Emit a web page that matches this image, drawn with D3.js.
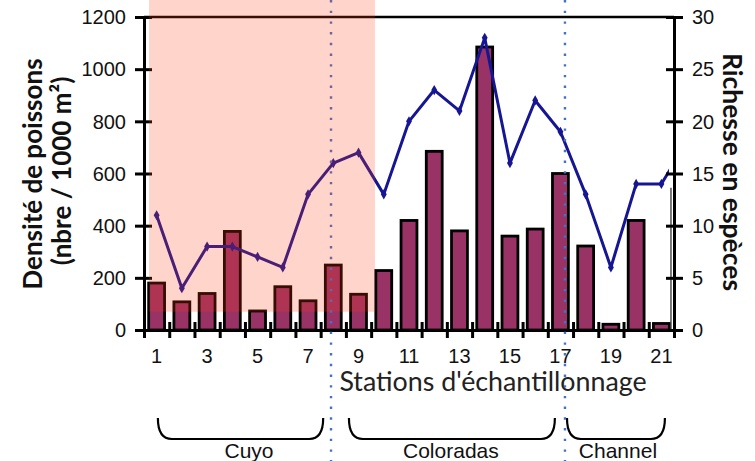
<!DOCTYPE html>
<html><head><meta charset="utf-8">
<script src="https://cdn.jsdelivr.net/npm/d3@7"></script>
<style>body{margin:0;background:#fff}svg{display:block}</style>
</head><body>
<script>
// ---- data ----
const stations = d3.range(1, 22);
const density = [180,108,140,378,73,166,112,249,137,228,420,685,380,1085,360,387,600,322,22,420,25];
const richness = [11,4,8,8,7,6,13,16,17,13,20,23,21,28,16,22,19,13,6,14,14];
const richnessBeyond = {station: 22, value: 18}; // continuation clipped at the right axis
const leftTicks = [0,200,400,600,800,1000,1200];
const rightTicks = [0,5,10,15,20,25,30];
const xTickLabels = [1,3,5,7,9,11,13,15,17,19,21];
const groups = [
  {name: "Cuyo", from: 1.05, to: 7.6, label: 4.66},
  {name: "Coloradas", from: 8.62, to: 16.78, label: 12.66},
  {name: "Channel", from: 17.26, to: 21.14, label: 19.28}
];
const dividers = [7.91, 17.18];
const shaded = {from: 0.7, to: 9.65};
const leftTitle = ["Densité de poissons", "(nbre / 1000 m²)"];
const rightTitle = "Richesse en espèces";
const xTitle = "Stations d'échantillonnage";

// ---- layout ----
const W = 755, H = 461;
const L = 144, R = 674, T = 17, B = 330;
const svg = d3.select("body").append("svg").attr("width", W).attr("height", H);

const xBand = d3.scaleBand(stations, [L, R]).paddingInner(0.37).paddingOuter(0.185);
const xLin = d3.scaleLinear([0.5, 21.5], [L, R]);
const yL = d3.scaleLinear([0, 1200], [B, T]);
const yR = d3.scaleLinear([0, 30], [B, T]);

// bars
svg.append("g").selectAll("rect").data(stations).join("rect")
  .attr("x", d => xBand(d)).attr("width", xBand.bandwidth())
  .attr("y", (d, i) => yL(density[i])).attr("height", (d, i) => B - yL(density[i]))
  .attr("fill", "#993366").attr("stroke", "#000").attr("stroke-width", 2.8);

// artifact line near right axis
svg.append("line").attr("x1", xLin(21.38)).attr("x2", xLin(21.38))
  .attr("y1", yL(545)).attr("y2", B).attr("stroke", "#333").attr("stroke-width", 1.3);

// richness line
svg.append("clipPath").attr("id", "clip").append("rect")
  .attr("x", 0).attr("y", 0).attr("width", xLin(21.3)).attr("height", H);
const pts = stations.map((s, i) => [xBand(s) + xBand.bandwidth() / 2, yR(richness[i])]);
const allPts = pts.concat([[xLin(richnessBeyond.station), yR(richnessBeyond.value)]]);
const lineG = svg.append("g").attr("clip-path", "url(#clip)");
lineG.append("path").attr("d", d3.line()(allPts))
  .attr("fill", "none").attr("stroke", "#161694").attr("stroke-width", 3).attr("stroke-linejoin", "round");
lineG.selectAll("path.m").data(pts).join("path").attr("class", "m")
  .attr("transform", d => `translate(${d[0]},${d[1]})`)
  .attr("d", d3.symbol(d3.symbolDiamond, 30)).attr("fill", "#161694");

// top frame line
svg.append("line").attr("x1", L).attr("x2", R).attr("y1", yL(1200)).attr("y2", yL(1200))
  .attr("stroke", "#000").attr("stroke-width", 2.5);

// axes
const tickFont = "'Liberation Sans', Arial, sans-serif";
function styleAxis(g) {
  g.select(".domain").attr("stroke", "#000").attr("stroke-width", 3);
  g.selectAll(".tick line").attr("stroke", "#000").attr("stroke-width", 3);
  g.selectAll("text").attr("font-family", tickFont).attr("font-size", 20).attr("fill", "#111");
}
const gl = svg.append("g").attr("transform", `translate(${L},0)`)
  .call(d3.axisLeft(yL).tickValues(leftTicks).tickFormat(d3.format("d")).tickSize(9).tickPadding(9).tickSizeOuter(0));
gl.selectAll(".tick line").attr("x1", 8);
styleAxis(gl);
gl.selectAll("text").attr("dy", "0.34em");

const gr = svg.append("g").attr("transform", `translate(${R},0)`)
  .call(d3.axisRight(yR).tickValues(rightTicks).tickFormat(d3.format("d")).tickSize(9).tickPadding(9).tickSizeOuter(0));
gr.selectAll(".tick line").attr("x1", -8);
styleAxis(gr);
gr.selectAll("text").attr("dy", "0.34em");

const gb = svg.append("g").attr("transform", `translate(0,${B})`)
  .call(d3.axisBottom(xLin).tickValues(d3.range(0.5, 22, 1)).tickFormat("").tickSize(8).tickSizeOuter(0));
gb.selectAll(".tick line").attr("y1", -8);
styleAxis(gb);

const gbl = svg.append("g").attr("transform", `translate(0,${B})`)
  .call(d3.axisBottom(xBand).tickValues(xTickLabels).tickSize(0).tickPadding(19));
gbl.select(".domain").remove();
styleAxis(gbl);

// titles
const titleFont = "Lato, 'Open Sans', sans-serif";
svg.append("text").attr("transform", "translate(32,174) rotate(-90)")
  .attr("text-anchor", "middle").attr("dominant-baseline", "central")
  .attr("font-family", titleFont).attr("font-weight", 700).attr("font-size", 26).attr("fill", "#111")
  .text(leftTitle[0]);
svg.append("text").attr("transform", "translate(61,171) rotate(-90)")
  .attr("text-anchor", "middle").attr("dominant-baseline", "central")
  .attr("font-family", titleFont).attr("font-weight", 700).attr("font-size", 26).attr("fill", "#111")
  .text(leftTitle[1]);
svg.append("text").attr("transform", "translate(733,172) rotate(90)")
  .attr("text-anchor", "middle").attr("dominant-baseline", "central")
  .attr("font-family", titleFont).attr("font-weight", 700).attr("font-size", 26.5).attr("fill", "#111")
  .text(rightTitle);
svg.append("text").attr("x", 493).attr("y", 391).attr("text-anchor", "middle")
  .attr("font-family", titleFont).attr("font-size", 26.8).attr("fill", "#222")
  .text(xTitle);

// braces and group labels
const bTop = 418, bBot = 439, rad = 14;
const gg = svg.append("g");
groups.forEach(g => {
  const x1 = xLin(g.from), x2 = xLin(g.to);
  gg.append("path")
    .attr("d", `M${x1},${bTop} Q${x1},${bBot} ${x1 + rad},${bBot} L${x2 - rad},${bBot} Q${x2},${bBot} ${x2},${bTop}`)
    .attr("fill", "none").attr("stroke", "#000").attr("stroke-width", 2.2);
  gg.append("text").attr("x", xLin(g.label)).attr("y", 458).attr("text-anchor", "middle")
    .attr("font-family", tickFont).attr("font-size", 21).attr("fill", "#111").text(g.name);
});

// dotted dividers
svg.append("g").selectAll("line").data(dividers).join("line")
  .attr("x1", d => xLin(d)).attr("x2", d => xLin(d)).attr("y1", 0).attr("y2", H)
  .attr("stroke", "#4472c4").attr("stroke-width", 2.4).attr("stroke-dasharray", "2.4,8.3");

// translucent shaded zone on top
svg.append("rect").attr("x", xLin(shaded.from)).attr("width", xLin(shaded.to) - xLin(shaded.from))
  .attr("y", 0).attr("height", yL(70))
  .attr("fill", "rgb(255,60,20)").attr("fill-opacity", 0.22);
</script>
</body></html>
